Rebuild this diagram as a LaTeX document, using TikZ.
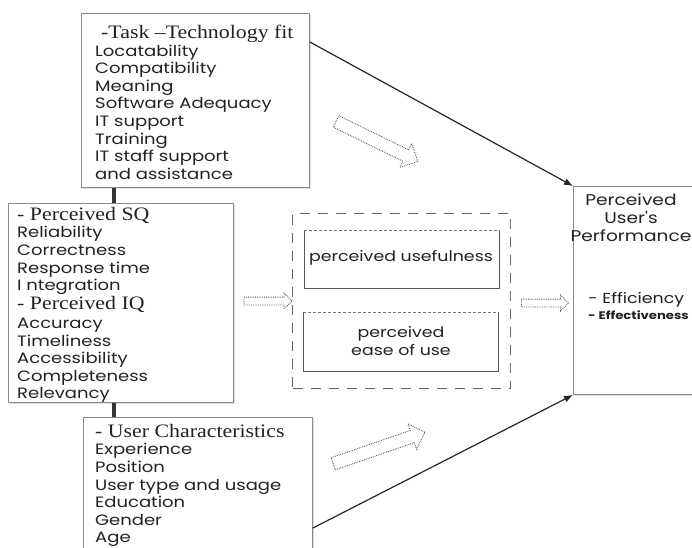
\documentclass[tikz,border=0pt]{standalone}
\usepackage{fontspec}
\setmainfont{Liberation Serif}[FakeStretch=1.15]
\newfontfamily\itemfont[FakeStretch=1.2]{Poppins}
\usetikzlibrary{arrows.meta,shapes.arrows,shadows}
\definecolor{boxgray}{HTML}{8A8A8A}
\definecolor{txtgray}{HTML}{222222}
\tikzset{
	box/.style = {draw=boxgray, fill=white, line width=0.9pt, anchor=north west, inner sep=0pt,
		drop shadow={opacity=0.25, shadow xshift=2pt, shadow yshift=-2pt}},
	itemtext/.style = {anchor=north west, align=left, inner sep=0pt, text=txtgray,
		font=\itemfont\fontsize{15}{17.6}\selectfont},
	hollow/.style = {single arrow, draw=black!70, densely dotted, line width=0.8pt, inner xsep=0pt},
	link/.style = {draw=black!80, line width=3.5pt},
	flow/.style = {draw=black!85, line width=1.2pt, -{Latex[length=9pt,width=7pt]}}
}
\newcommand{\headline}[1]{{\rmfamily\fontsize{19}{19}\selectfont #1}}
\begin{document}
\begin{tikzpicture}[x=1pt, y=-1pt]
	\path[use as bounding box] (0,0) rectangle (692,547);
	\clip (0,0) rectangle (692,547);
	% boxes
	\node (task) at ( 81, 13) [box, minimum width=228pt, minimum height=174pt] {};
	\node (sq)   at (  8,203) [box, minimum width=225pt, minimum height=199pt] {};
	\node (user) at ( 83,417) [box, minimum width=229pt, minimum height=150pt] {};
	\node (perf) at (573,186) [box, minimum width=130pt, minimum height=208pt] {};
	\node (med)  at (292,213) [anchor=north west, inner sep=0pt, minimum width=218pt, minimum height=175pt,
		draw=black!60, line width=1.2pt, dash pattern=on 10pt off 8pt] {};
	\node (pu)   at (304,230) [anchor=north west, inner sep=0pt, minimum width=195pt, minimum height=58pt] {};
	\node (peou) at (303,312) [anchor=north west, inner sep=0pt, minimum width=195pt, minimum height=59pt] {};
	\draw[black!65, line width=0.8pt] (pu.north west) -- (pu.south west) -- (pu.south east) -- (pu.north east);
	\draw[black!55, line width=0.6pt, densely dashed] (pu.north west) -- (pu.north east);
	\draw[black!65, line width=0.8pt] (peou.north west) -- (peou.south west) -- (peou.south east) -- (peou.north east);
	\draw[black!55, line width=0.6pt, densely dashed] (peou.north west) -- (peou.north east);
	% texts
	\node (tasktxt) at ( 95, 25) [itemtext] {\hspace{6pt}\headline{-Task --Technology fit}\\Locatability\\Compatibility\\Meaning\\Software Adequacy\\IT support\\Training\\IT staff support\\and assistance};
	\node (sqtxt) at ( 17,207) [itemtext] {\headline{- Perceived SQ}\\Reliability\\Correctness\\Response time\\I ntegration\\[1.5pt]\headline{- Perceived IQ}\\[1pt]Accuracy\\Timeliness\\Accessibility\\Completeness\\Relevancy};
	\node (usertxt) at ( 95,424) [itemtext] {\headline{- User Characteristics}\\Experience\\Position\\User type and usage\\Education\\Gender\\Age};
	\node (perftxt) at (631,218) [align=center, inner sep=0pt, text=txtgray,
		font=\itemfont\fontsize{15.5}{18}\selectfont] {Perceived\\User's\\Performance};
	\node (efftxt) at (588,292) [anchor=north west, align=left, inner sep=0pt, text=txtgray,
		font=\itemfont\fontsize{14.5}{16}\selectfont] {- Efficiency\\{\fontsize{11}{12}\selectfont\bfseries - Effectiveness}};
	\node (putxt) at (401,258) [text=txtgray, font=\itemfont\fontsize{14.5}{18}\selectfont] {perceived usefulness};
	\node (peoutxt) at (401,341) [align=center, text=txtgray, font=\itemfont\fontsize{14.5}{18}\selectfont] {perceived\\ease of use};
	% hollow dotted arrows
	\node (h1) at (374,140) [hollow, rotate=-26, minimum height=91pt, inner ysep=6pt, single arrow head extend=7pt] {};
	\node (h2) at (266,301) [hollow, minimum height=48pt, inner ysep=3.5pt, single arrow head extend=4pt] {};
	\node (h3) at (543,303) [hollow, minimum height=47pt, inner ysep=3.5pt, single arrow head extend=4pt] {};
	\node (h4) at (376,449) [hollow, rotate=19, minimum height=97pt, inner ysep=6pt, single arrow head extend=7pt] {};
	% connectors
	\draw[link] ([xshift=33pt]task.south west) -- ([xshift=106pt]sq.north west);
	\draw[link] ([xshift=106pt]sq.south west) -- ([xshift=31pt]user.north west);
	\draw[flow] ([yshift=-29pt]task.north east) -- (perf.north west);
	\draw[flow] ([yshift=-111pt]user.north east) -- (perf.south west);
\end{tikzpicture}
\end{document}
